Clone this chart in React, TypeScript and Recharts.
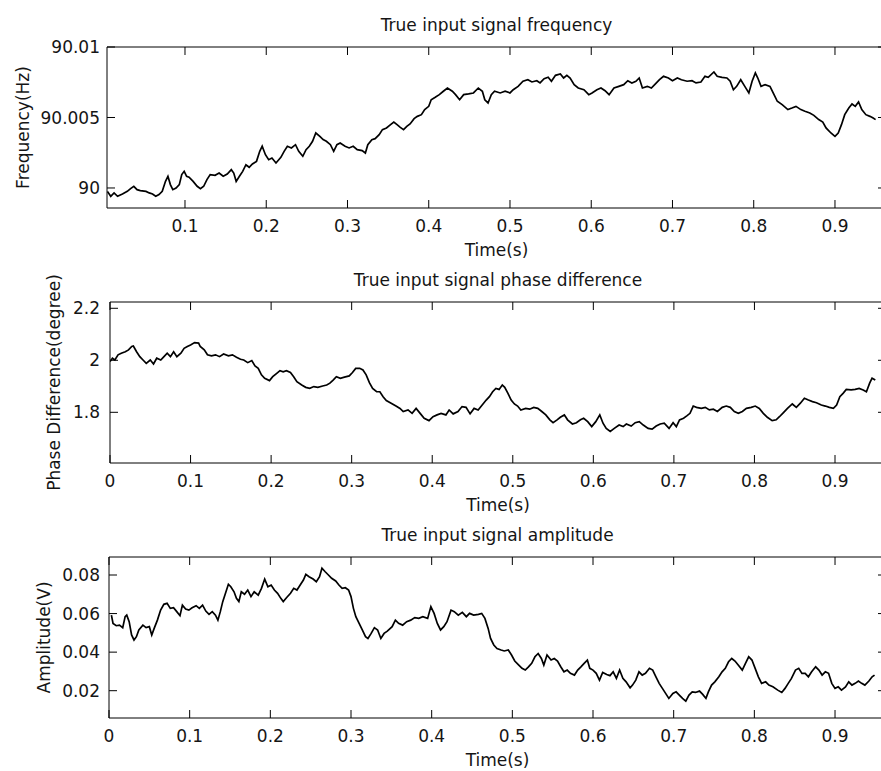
import React from "react";
import { LineChart, Line, XAxis, YAxis } from "recharts";

// ---------- data ----------
const freqTime = [
  0.0045, 0.0086, 0.0127, 0.017, 0.023, 0.029, 0.033, 0.037, 0.041, 0.045, 0.052, 0.056, 0.06, 0.064, 0.068, 0.072,
  0.076, 0.079, 0.082, 0.085, 0.089, 0.093, 0.096, 0.099, 0.102, 0.105, 0.11, 0.115, 0.119, 0.123, 0.127, 0.131,
  0.137, 0.142, 0.147, 0.152, 0.157, 0.16, 0.163, 0.167, 0.171, 0.175, 0.179, 0.183, 0.188, 0.192, 0.195, 0.199,
  0.203, 0.207, 0.212, 0.218, 0.222, 0.226, 0.231, 0.236, 0.24, 0.245, 0.249, 0.253, 0.257, 0.261, 0.266, 0.27,
  0.274, 0.279, 0.283, 0.287, 0.291, 0.297, 0.302, 0.307, 0.312, 0.318, 0.322, 0.325, 0.33, 0.334, 0.339, 0.343,
  0.348, 0.353, 0.357, 0.361, 0.365, 0.369, 0.373, 0.377, 0.382, 0.386, 0.391, 0.395, 0.4, 0.403, 0.408, 0.413,
  0.418, 0.423, 0.429, 0.433, 0.438, 0.443, 0.449, 0.455, 0.461, 0.466, 0.469, 0.473, 0.477, 0.481, 0.488, 0.494,
  0.5, 0.504, 0.51, 0.516, 0.522, 0.527, 0.533, 0.537, 0.542, 0.547, 0.551, 0.556, 0.562, 0.566, 0.57, 0.574,
  0.579, 0.584, 0.591, 0.597, 0.601, 0.607, 0.612, 0.617, 0.622, 0.628, 0.634, 0.64, 0.645, 0.65, 0.655, 0.659,
  0.663, 0.669, 0.674, 0.679, 0.684, 0.689, 0.695, 0.7, 0.706, 0.711, 0.718, 0.724, 0.729, 0.735, 0.74, 0.744,
  0.751, 0.755, 0.761, 0.767, 0.771, 0.775, 0.779, 0.784, 0.789, 0.794, 0.798, 0.802, 0.805, 0.809, 0.814, 0.82,
  0.825, 0.829, 0.835, 0.842, 0.847, 0.852, 0.858, 0.863, 0.869, 0.874, 0.88, 0.885, 0.889, 0.895, 0.9, 0.904,
  0.908, 0.912, 0.917, 0.921, 0.925, 0.929, 0.933, 0.938, 0.943, 0.947, 0.95,
];
const freqHz = [
  89.99976, 89.99941, 89.99965, 89.99941, 89.99957, 89.99976, 89.99995, 90.00012, 89.99988, 89.99981, 89.99976, 89.99965, 89.99957, 89.99941, 89.99953, 89.99976,
  90.00047, 90.00083, 90.00024, 89.99988, 90.0, 90.00024, 90.00095, 90.00118, 90.00083, 90.00076, 90.00047, 90.00012, 89.99995, 90.00012, 90.00059, 90.00095,
  90.0009, 90.00106, 90.00083, 90.00099, 90.0013, 90.00106, 90.00047, 90.00083, 90.00118, 90.00165, 90.00147, 90.0017, 90.00189, 90.0026, 90.00296, 90.00236,
  90.00201, 90.00213, 90.00177, 90.00217, 90.0026, 90.00296, 90.00284, 90.00307, 90.0026, 90.00225, 90.00272, 90.00296, 90.00331, 90.0039, 90.00366, 90.00343,
  90.00331, 90.00307, 90.0026, 90.00307, 90.00319, 90.00296, 90.00284, 90.00296, 90.00272, 90.00265, 90.00248, 90.00307, 90.00343, 90.0035, 90.00378, 90.00414,
  90.00426, 90.00449, 90.00468, 90.00449, 90.0043, 90.00414, 90.00437, 90.00454, 90.00492, 90.00508, 90.0052, 90.00556, 90.00579, 90.00626, 90.00643, 90.00662,
  90.00686, 90.00709, 90.00686, 90.00662, 90.00626, 90.00662, 90.00667, 90.00674, 90.00709, 90.00686, 90.00626, 90.00603, 90.00662, 90.00686, 90.00674, 90.00686,
  90.00674, 90.00697, 90.00721, 90.00757, 90.00768, 90.00752, 90.00761, 90.00745, 90.00775, 90.00785, 90.00757, 90.00799, 90.00809, 90.0078, 90.00799, 90.0078,
  90.00733, 90.00709, 90.00697, 90.00662, 90.00674, 90.00697, 90.00709, 90.0069, 90.00662, 90.00709, 90.00721, 90.00733, 90.00761, 90.00745, 90.00757, 90.0078,
  90.00709, 90.00721, 90.00709, 90.00738, 90.00768, 90.00792, 90.0078, 90.00761, 90.0078, 90.00768, 90.00757, 90.00761, 90.00745, 90.00752, 90.00792, 90.00785,
  90.00823, 90.00792, 90.00785, 90.0078, 90.00757, 90.00697, 90.00721, 90.00768, 90.00721, 90.00674, 90.00757, 90.00816, 90.0078, 90.00721, 90.00733, 90.00721,
  90.00662, 90.00615, 90.00591, 90.00556, 90.00567, 90.00579, 90.00556, 90.00544, 90.00532, 90.00515, 90.00485, 90.00468, 90.00426, 90.0039, 90.00366, 90.0039,
  90.00449, 90.0052, 90.00567, 90.00596, 90.00579, 90.0061, 90.00556, 90.0052, 90.00508, 90.00496, 90.00485,
];

const phaseTime = [
  0, 0.003, 0.006, 0.01, 0.014, 0.019, 0.023, 0.027, 0.029, 0.033, 0.037, 0.041, 0.045, 0.05, 0.054, 0.058,
  0.063, 0.067, 0.071, 0.075, 0.079, 0.083, 0.088, 0.092, 0.096, 0.1, 0.105, 0.11, 0.112, 0.117, 0.121, 0.126,
  0.131, 0.136, 0.141, 0.147, 0.152, 0.157, 0.162, 0.166, 0.171, 0.176, 0.18, 0.184, 0.188, 0.192, 0.198, 0.202,
  0.207, 0.211, 0.215, 0.219, 0.224, 0.228, 0.232, 0.238, 0.243, 0.248, 0.253, 0.258, 0.264, 0.269, 0.273, 0.277,
  0.281, 0.286, 0.291, 0.297, 0.301, 0.305, 0.31, 0.314, 0.318, 0.322, 0.326, 0.331, 0.335, 0.339, 0.343, 0.349,
  0.355, 0.36, 0.364, 0.37, 0.375, 0.38, 0.385, 0.39, 0.396, 0.401, 0.406, 0.411, 0.417, 0.421, 0.426, 0.432,
  0.437, 0.442, 0.447, 0.452, 0.457, 0.462, 0.467, 0.471, 0.475, 0.479, 0.483, 0.487, 0.49, 0.494, 0.498, 0.502,
  0.506, 0.51, 0.516, 0.521, 0.526, 0.531, 0.536, 0.541, 0.546, 0.55, 0.555, 0.559, 0.564, 0.568, 0.574, 0.579,
  0.584, 0.588, 0.593, 0.598, 0.603, 0.608, 0.612, 0.616, 0.621, 0.626, 0.632, 0.637, 0.641, 0.647, 0.652, 0.657,
  0.662, 0.668, 0.673, 0.678, 0.683, 0.688, 0.694, 0.699, 0.703, 0.707, 0.712, 0.716, 0.72, 0.724, 0.728, 0.734,
  0.739, 0.744, 0.749, 0.754, 0.76, 0.765, 0.77, 0.775, 0.78, 0.785, 0.79, 0.796, 0.801, 0.806, 0.811, 0.816,
  0.822, 0.827, 0.831, 0.836, 0.841, 0.847, 0.852, 0.857, 0.862, 0.867, 0.872, 0.877, 0.883, 0.888, 0.893, 0.898,
  0.902, 0.906, 0.91, 0.914, 0.92, 0.925, 0.93, 0.935, 0.939, 0.943, 0.946, 0.95,
];
const phaseDeg = [
  1.995, 2.008, 2.001, 2.021, 2.027, 2.033, 2.04, 2.053, 2.055, 2.033, 2.014, 2.001, 1.988, 2.001, 1.986, 2.008,
  2.001, 2.014, 2.027, 2.014, 2.033, 2.014, 2.027, 2.046, 2.053, 2.059, 2.068, 2.066, 2.053, 2.04, 2.021, 2.017,
  2.021, 2.014, 2.024, 2.017, 2.021, 2.012, 2.004, 2.001, 1.991, 1.999, 1.978, 1.969, 1.944, 1.931, 1.922, 1.937,
  1.95, 1.96, 1.956, 1.96, 1.953, 1.937, 1.918, 1.905, 1.896, 1.892, 1.899, 1.896, 1.901, 1.905, 1.912, 1.924,
  1.937, 1.931, 1.935, 1.94, 1.953, 1.969, 1.969, 1.963, 1.944, 1.914, 1.892, 1.879, 1.879, 1.86, 1.845, 1.835,
  1.824, 1.815, 1.803, 1.809, 1.796, 1.815, 1.796, 1.777, 1.768, 1.783, 1.79, 1.796, 1.79, 1.809, 1.794, 1.803,
  1.822, 1.819, 1.794, 1.815, 1.809, 1.828, 1.847, 1.86, 1.879, 1.892, 1.888, 1.905, 1.896, 1.873, 1.847, 1.832,
  1.824, 1.809, 1.815, 1.812, 1.819, 1.815, 1.803, 1.79, 1.771, 1.76, 1.771, 1.781, 1.79, 1.771, 1.755, 1.76,
  1.771, 1.777, 1.764, 1.745, 1.764, 1.79, 1.758, 1.738, 1.726, 1.738, 1.751, 1.745, 1.755, 1.747, 1.76, 1.764,
  1.751, 1.738, 1.735, 1.747, 1.755, 1.758, 1.738, 1.76, 1.745, 1.771, 1.777, 1.786, 1.796, 1.824, 1.819, 1.815,
  1.819, 1.809, 1.812, 1.803, 1.819, 1.824, 1.819, 1.803, 1.796, 1.803, 1.815, 1.819, 1.824, 1.815, 1.796, 1.781,
  1.768, 1.771, 1.783, 1.799, 1.815, 1.832, 1.819, 1.835, 1.854, 1.847, 1.841, 1.837, 1.828, 1.824, 1.819, 1.815,
  1.828, 1.86, 1.873, 1.888, 1.886, 1.888, 1.892, 1.886, 1.879, 1.912, 1.931, 1.924,
];

const ampTime = [
  0.003, 0.005, 0.009, 0.013, 0.017, 0.02, 0.022, 0.025, 0.028, 0.031, 0.034, 0.037, 0.042, 0.046, 0.05, 0.053,
  0.056, 0.06, 0.064, 0.068, 0.072, 0.076, 0.08, 0.084, 0.088, 0.091, 0.095, 0.099, 0.103, 0.108, 0.112, 0.116,
  0.12, 0.124, 0.128, 0.132, 0.135, 0.138, 0.141, 0.145, 0.148, 0.151, 0.155, 0.158, 0.161, 0.164, 0.168, 0.172,
  0.176, 0.18, 0.185, 0.189, 0.193, 0.197, 0.201, 0.205, 0.209, 0.213, 0.216, 0.22, 0.225, 0.229, 0.233, 0.237,
  0.241, 0.244, 0.248, 0.253, 0.257, 0.261, 0.264, 0.268, 0.272, 0.276, 0.281, 0.285, 0.289, 0.293, 0.297, 0.3,
  0.303, 0.306, 0.309, 0.314, 0.318, 0.321, 0.325, 0.329, 0.333, 0.337, 0.341, 0.345, 0.351, 0.355, 0.359, 0.364,
  0.369, 0.374, 0.379, 0.384, 0.389, 0.395, 0.399, 0.403, 0.407, 0.411, 0.415, 0.419, 0.424, 0.428, 0.433, 0.438,
  0.443, 0.447, 0.452, 0.458, 0.462, 0.466, 0.47, 0.473, 0.477, 0.481, 0.486, 0.49, 0.495, 0.499, 0.503, 0.508,
  0.512, 0.516, 0.52, 0.524, 0.528, 0.532, 0.536, 0.539, 0.543, 0.548, 0.552, 0.556, 0.56, 0.564, 0.568, 0.572,
  0.577, 0.581, 0.585, 0.589, 0.593, 0.596, 0.6, 0.604, 0.608, 0.612, 0.617, 0.621, 0.625, 0.629, 0.633, 0.637,
  0.641, 0.646, 0.649, 0.653, 0.657, 0.661, 0.665, 0.67, 0.674, 0.678, 0.682, 0.686, 0.69, 0.694, 0.699, 0.703,
  0.707, 0.711, 0.715, 0.719, 0.723, 0.727, 0.732, 0.736, 0.74, 0.743, 0.747, 0.751, 0.756, 0.76, 0.764, 0.768,
  0.772, 0.776, 0.78, 0.785, 0.789, 0.793, 0.797, 0.801, 0.805, 0.809, 0.814, 0.818, 0.823, 0.829, 0.834, 0.838,
  0.842, 0.846, 0.851, 0.855, 0.859, 0.863, 0.867, 0.871, 0.876, 0.88, 0.884, 0.888, 0.892, 0.896, 0.9, 0.904,
  0.908, 0.913, 0.917, 0.921, 0.925, 0.929, 0.933, 0.937, 0.942, 0.946, 0.949,
];
const ampVolt = [
  0.0592, 0.0549, 0.0537, 0.054, 0.0527, 0.0584, 0.0592, 0.0558, 0.0489, 0.0463, 0.048, 0.0515, 0.054, 0.0527, 0.0532, 0.0489,
  0.0523, 0.0566, 0.0618, 0.0648, 0.0653, 0.0627, 0.063, 0.061, 0.0589, 0.0644, 0.0624, 0.0618, 0.063, 0.0641, 0.0627, 0.0644,
  0.0613, 0.0596, 0.061, 0.0592, 0.0566, 0.061, 0.0662, 0.0713, 0.0752, 0.0739, 0.0713, 0.0679, 0.0662, 0.0713, 0.07, 0.0722,
  0.0688, 0.0713, 0.0696, 0.0731, 0.0779, 0.0739, 0.0748, 0.0722, 0.0705, 0.0679, 0.0662, 0.0682, 0.0705, 0.0731, 0.0722, 0.0748,
  0.0774, 0.0803, 0.0791, 0.0779, 0.0765, 0.0791, 0.0835, 0.0817, 0.08, 0.0783, 0.0769, 0.0748, 0.0731, 0.0734, 0.0722, 0.0688,
  0.0627, 0.0584, 0.0558, 0.0515, 0.048, 0.0471, 0.0497, 0.0527, 0.0515, 0.0471, 0.0497, 0.0509, 0.0532, 0.0566, 0.0549, 0.054,
  0.0558, 0.0566, 0.0579, 0.0575, 0.0584, 0.0575, 0.0636, 0.0601, 0.0549, 0.0515, 0.0532, 0.0558, 0.0618, 0.061, 0.0592, 0.0606,
  0.0584, 0.0601, 0.0592, 0.0596, 0.0601, 0.0575, 0.0523, 0.0471, 0.0437, 0.0419, 0.0411, 0.0406, 0.0411, 0.0385, 0.0354, 0.0333,
  0.0316, 0.0307, 0.0324, 0.0342, 0.0376, 0.0393, 0.0367, 0.0333, 0.0385, 0.0359, 0.0367, 0.0354, 0.0324, 0.0298, 0.0307, 0.029,
  0.0281, 0.0307, 0.0324, 0.0342, 0.0359, 0.0316, 0.0307, 0.029, 0.0255, 0.0295, 0.0284, 0.0278, 0.0298, 0.0264, 0.0307, 0.0264,
  0.0246, 0.0215, 0.0229, 0.0255, 0.0298, 0.0281, 0.029, 0.0316, 0.0307, 0.0272, 0.0238, 0.0212, 0.0186, 0.016, 0.0186, 0.0194,
  0.0177, 0.016, 0.0146, 0.0177, 0.0194, 0.0191, 0.0198, 0.0181, 0.016, 0.0194, 0.0229, 0.0246, 0.0272, 0.0298, 0.0316, 0.035,
  0.0367, 0.0354, 0.0333, 0.0307, 0.0342, 0.0376, 0.0359, 0.0316, 0.0272, 0.0238, 0.0246, 0.0229, 0.022, 0.0203, 0.0191, 0.0212,
  0.0238, 0.0264, 0.0307, 0.0316, 0.029, 0.029, 0.0272, 0.0298, 0.0324, 0.0307, 0.0281, 0.0298, 0.029, 0.0238, 0.0212, 0.022,
  0.0203, 0.022, 0.0246, 0.0229, 0.0238, 0.025, 0.0238, 0.0229, 0.025, 0.0272, 0.0281,
];

const timeTicksFreq = [0.1, 0.2, 0.3, 0.4, 0.5, 0.6, 0.7, 0.8, 0.9];
const timeTicks = [0, 0.1, 0.2, 0.3, 0.4, 0.5, 0.6, 0.7, 0.8, 0.9];
const freqTicks = [90, 90.005, 90.01];
const phaseTicks = [1.8, 2, 2.2];
const ampTicks = [0.02, 0.04, 0.06, 0.08];

const titles = [
  "True input signal frequency",
  "True input signal phase difference",
  "True input signal amplitude",
];
const yLabels = ["Frequency(Hz)", "Phase Difference(degree)", "Amplitude(V)"];
const xLabel = "Time(s)";

// ---------- rendering ----------
const FONT = "'DejaVu Sans', Verdana, sans-serif";
const TEXT_FILL = "#151515";
const CHART_W = 890;
const PLOT_RIGHT = 886;
const TICK_LEN = 8;

const fmtX = (v: number) => String(+v.toFixed(1));
const fmtFreq = (v: number) => String(+v.toFixed(3));
const fmtPhase = (v: number) => String(+v.toFixed(1));
const fmtAmp = (v: number) => v.toFixed(2);

type PanelProps = {
  top: number;
  height: number;
  marginTop: number;
  plotLeft: number;
  xAxisHeight: number;
  xDomain: [number, number];
  xTicks: number[];
  yDomain: [number, number];
  yTicks: number[];
  yFmt: (v: number) => string;
  yTickGap: number;
  title: string;
  yLabel: string;
  yLabelX: number;
  data: { t: number; v: number }[];
};

function Panel(p: PanelProps) {
  const plotTop = p.marginTop;
  const plotH = p.height - p.marginTop - p.xAxisHeight;
  const plotBottom = plotTop + plotH;
  const cx = (p.plotLeft + PLOT_RIGHT) / 2;
  const cy = plotTop + plotH / 2;
  const tStyle = { fontFamily: FONT, fontSize: 17, fill: TEXT_FILL };

  const bottomTick = (props: any) => {
    const x = props.payload && typeof props.payload.coordinate === "number" ? props.payload.coordinate : props.x;
    const v = props.payload ? props.payload.value : 0;
    return (
      <g>
        <line x1={x} x2={x} y1={plotBottom} y2={plotBottom - TICK_LEN} stroke="#000" strokeWidth={1} />
        <line x1={x} x2={x} y1={plotTop} y2={plotTop + TICK_LEN} stroke="#000" strokeWidth={1} />
        <text x={x} y={plotBottom + 12} dy="0.73em" textAnchor="middle" {...tStyle}>
          {fmtX(v)}
        </text>
      </g>
    );
  };

  const leftTick = (props: any) => {
    const y = props.payload && typeof props.payload.coordinate === "number" ? props.payload.coordinate : props.y;
    const v = props.payload ? props.payload.value : 0;
    return (
      <g>
        <line x1={p.plotLeft} x2={p.plotLeft + TICK_LEN} y1={y} y2={y} stroke="#000" strokeWidth={1} />
        <line x1={PLOT_RIGHT} x2={PLOT_RIGHT - TICK_LEN} y1={y} y2={y} stroke="#000" strokeWidth={1} />
        <text x={p.plotLeft - p.yTickGap} y={y} dy="0.36em" textAnchor="end" {...tStyle}>
          {p.yFmt(v)}
        </text>
      </g>
    );
  };

  const xAxisDecor = () => (
    <g>
      <line x1={p.plotLeft} x2={PLOT_RIGHT} y1={plotTop} y2={plotTop} stroke="#000" strokeWidth={1} />
      <text x={cx} y={plotTop - 16.5} textAnchor="middle" {...tStyle}>
        {p.title}
      </text>
      <text x={cx} y={plotBottom + 48} textAnchor="middle" {...tStyle}>
        {xLabel}
      </text>
    </g>
  );

  const yLab = () => (
    <text
      x={p.yLabelX}
      y={cy}
      transform={`rotate(-90 ${p.yLabelX} ${cy})`}
      textAnchor="middle"
      dominantBaseline="central"
      {...tStyle}
    >
      {p.yLabel}
    </text>
  );

  return (
    <div style={{ position: "absolute", left: 0, top: p.top, width: CHART_W, height: p.height }}>
      <LineChart
        width={CHART_W}
        height={p.height}
        data={p.data}
        margin={{ top: p.marginTop, right: CHART_W - PLOT_RIGHT, bottom: 0, left: 0 }}
      >
        <XAxis
          dataKey="t"
          type="number"
          orientation="bottom"
          domain={p.xDomain}
          ticks={p.xTicks}
          allowDataOverflow
          interval={0}
          height={p.xAxisHeight}
          tickSize={0}
          tickMargin={0}
          tickLine={false}
          tick={bottomTick}
          axisLine={{ stroke: "#000", strokeWidth: 1 }}
          label={xAxisDecor}
        />
        <YAxis
          type="number"
          orientation="left"
          domain={p.yDomain}
          ticks={p.yTicks}
          allowDataOverflow
          interval={0}
          width={p.plotLeft}
          tickSize={0}
          tickMargin={0}
          tickLine={false}
          tick={leftTick}
          axisLine={{ stroke: "#000", strokeWidth: 1 }}
          label={yLab}
        />
        <Line
          dataKey="v"
          type="linear"
          stroke="#000"
          strokeWidth={1.7}
          strokeLinejoin="miter"
          dot={false}
          activeDot={false}
          isAnimationActive={false}
        />
      </LineChart>
    </div>
  );
}

export default function App() {
  const freqData = freqTime.map((t, i) => ({ t, v: freqHz[i] }));
  const phaseData = phaseTime.map((t, i) => ({ t, v: phaseDeg[i] }));
  const ampData = ampTime.map((t, i) => ({ t, v: ampVolt[i] }));

  return (
    <div
      style={{
        position: "absolute",
        left: 0,
        top: 0,
        width: 881,
        height: 771,
        overflow: "hidden",
        background: "#fff",
      }}
    >
      <Panel
        top={0}
        height={260}
        marginTop={47}
        plotLeft={107}
        xAxisHeight={52}
        xDomain={[0.004, 0.9628]}
        xTicks={timeTicksFreq}
        yDomain={[89.99858, 90.01]}
        yTicks={freqTicks}
        yFmt={fmtFreq}
        yTickGap={7}
        title={titles[0]}
        yLabel={yLabels[0]}
        yLabelX={22.5}
        data={freqData}
      />
      <Panel
        top={260}
        height={255}
        marginTop={42}
        plotLeft={110}
        xAxisHeight={52}
        xDomain={[0, 0.9633]}
        xTicks={timeTicks}
        yDomain={[1.605, 2.2242]}
        yTicks={phaseTicks}
        yFmt={fmtPhase}
        yTickGap={10}
        title={titles[1]}
        yLabel={yLabels[1]}
        yLabelX={54}
        data={phaseData}
      />
      <Panel
        top={515}
        height={256}
        marginTop={42}
        plotLeft={109}
        xAxisHeight={53}
        xDomain={[0, 0.9632]}
        xTicks={timeTicks}
        yDomain={[0.00584, 0.08934]}
        yTicks={ampTicks}
        yFmt={fmtAmp}
        yTickGap={9}
        title={titles[2]}
        yLabel={yLabels[2]}
        yLabelX={43.5}
        data={ampData}
      />
    </div>
  );
}
